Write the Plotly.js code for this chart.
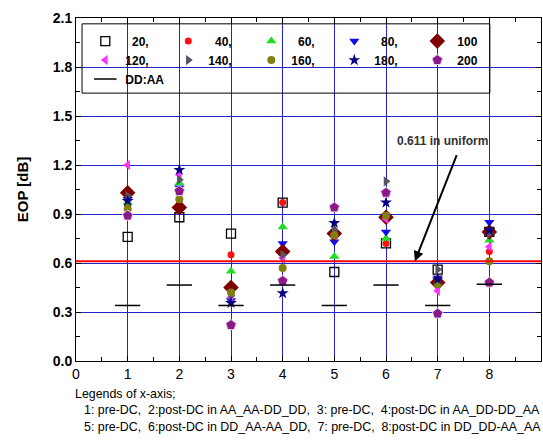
<!DOCTYPE html>
<html>
<head>
<meta charset="utf-8">
<script src="https://cdn.plot.ly/plotly-3.0.1.min.js"></script>
<style>html,body{margin:0;padding:0;background:#fff;}#chart{width:543px;height:444px;}</style>
</head>
<body>
<div id="chart"></div>
<script>
// x positions (measurement steps)
var xPos = [1, 2, 3, 4, 5, 6, 7, 8];
// series names (legend labels)
var seriesNames = ['\u00a0\u00a020,', '\u00a0\u00a040,', '\u00a0\u00a060,', '\u00a0\u00a080,', '100',
                   '120,', '140,', '160,', '180,', '200'];
// EOP values [dB] per series
var s20  = [0.76, 0.88, 0.78, 0.97, 0.545, 0.72, 0.56, 0.79];
var s40  = [0.95, 0.96, 0.65, 0.97, 0.76, 0.72, 0.47, 0.67];
var s60  = [0.97, 1.09, 0.55, 0.82, 0.64, 0.75, 0.49, 0.74];
var s80  = [0.99, 1.06, 0.37, 0.72, 0.73, 0.79, 0.51, 0.85];
var s100 = [1.03, 0.94, 0.45, 0.67, 0.78, 0.88, 0.48, 0.79];
var s120 = [1.20, 1.14, 0.39, 0.63, 0.77, 0.87, 0.43, 0.70];
var s140 = [1.01, 1.11, 0.40, 0.65, 0.80, 1.10, 0.56, 0.78];
var s160 = [0.93, 0.99, 0.42, 0.57, 0.77, 0.89, 0.47, 0.61];
var s180 = [0.98, 1.17, 0.355, 0.415, 0.845, 0.97, 0.50, 0.80];
var s200 = [0.89, 1.04, 0.22, 0.49, 0.94, 1.03, 0.29, 0.48];
var ddaa = [0.34, 0.465, 0.34, 0.465, 0.34, 0.465, 0.34, 0.47];
var uniformValue = 0.611;
var uniformLabel = '0.611 in uniform';
var xTickVals = [0, 1, 2, 3, 4, 5, 6, 7, 8, 9];
var yTickVals = [0.0, 0.3, 0.6, 0.9, 1.2, 1.5, 1.8, 2.1];
var yTickText = ['0.0', '0.3', '0.6', '0.9', '1.2', '1.5', '1.8', '2.1'];
var noteLines = ['Legends of x-axis;',
  '1: pre-DC,  2:post-DC in AA_AA-DD_DD,  3: pre-DC,  4:post-DC in AA_DD-DD_AA',
  '5: pre-DC,  6:post-DC in DD_AA-AA_DD,  7: pre-DC,  8:post-DC in DD_DD-AA_AA'];

var seriesData = [s20, s40, s60, s80, s100, s120, s140, s160, s180, s200];
var styles = [
  {symbol: 'square-open', color: '#000000', size: 9, line: {width: 1.3, color: '#000000'}},
  {symbol: 'circle', color: '#ff1010', size: 7, line: {width: 0}},
  {symbol: 'triangle-up', color: '#22dd22', size: 9, line: {width: 0}},
  {symbol: 'triangle-down', color: '#1010ee', size: 9, line: {width: 0}},
  {symbol: 'diamond', color: '#800000', size: 12, line: {width: 0}},
  {symbol: 'triangle-left', color: '#ff33ff', size: 9, line: {width: 0}},
  {symbol: 'triangle-right', color: '#555566', size: 9, line: {width: 0}},
  {symbol: 'circle', color: '#808010', size: 8, line: {width: 0}},
  {symbol: 'star', color: '#000080', size: 9, line: {width: 0}},
  {symbol: 'pentagon', color: '#8a1a8a', size: 11, line: {width: 1, color: '#e8d0e8'}}
];

var traces = seriesData.map(function (vals, i) {
  return {
    x: xPos, y: vals, type: 'scatter', mode: 'markers', name: seriesNames[i],
    marker: {symbol: styles[i].symbol, color: styles[i].color, size: styles[i].size, line: styles[i].line}
  };
});
traces.push({
  x: xPos, y: ddaa, type: 'scatter', mode: 'markers', name: 'DD:AA',
  marker: {symbol: 'line-ew', size: 18, color: '#000000', line: {width: 1.5, color: '#000000'}}
});

var gridBlue = '#2424cc';
var noteFont = {family: 'Liberation Sans, Arial', size: 12.4, color: '#000'};
var annotations = [
  {xref: 'x', yref: 'y', x: 6.56, y: uniformValue, ax: 7.38, ay: 1.27, axref: 'x', ayref: 'y',
   text: '', showarrow: true, arrowhead: 2, arrowsize: 1, arrowwidth: 2, arrowcolor: '#000'},
  {xref: 'x', yref: 'y', x: 7.1, y: 1.345, text: uniformLabel, showarrow: false,
   font: {family: 'Liberation Sans, Arial', size: 12, color: '#333', weight: 'bold'}},
  {xref: 'paper', yref: 'paper', x: -0.007, y: -0.095, xanchor: 'left', yanchor: 'middle', text: noteLines[0],
   showarrow: false, font: noteFont},
  {xref: 'paper', yref: 'paper', x: 0.012, y: -0.143, xanchor: 'left', yanchor: 'middle', text: noteLines[1],
   showarrow: false, font: noteFont},
  {xref: 'paper', yref: 'paper', x: 0.012, y: -0.191, xanchor: 'left', yanchor: 'middle', text: noteLines[2],
   showarrow: false, font: noteFont}
];

var layout = {
  width: 543, height: 444,
  margin: {l: 76, r: 2, t: 18, b: 83},
  paper_bgcolor: '#fff', plot_bgcolor: '#fff',
  font: {family: 'Liberation Sans, Arial', color: '#000'},
  showlegend: true,
  legend: {x: 0.02, y: 0.975, xanchor: 'left', yanchor: 'top', orientation: 'h',
           entrywidth: 38, bgcolor: 'rgba(0,0,0,0)', borderwidth: 0,
           tracegroupgap: 0, itemclick: false,
           font: {family: 'Liberation Sans, Arial', size: 12, color: '#000', weight: 'bold'}},
  xaxis: {range: [0, 9], tickvals: xTickVals, showgrid: true, gridcolor: gridBlue, gridwidth: 1,
          zeroline: false, showline: true, linecolor: '#000', linewidth: 1, mirror: 'ticks',
          ticks: 'inside', ticklen: 5, tickcolor: '#000',
          minor: {dtick: 0.5, ticks: 'inside', ticklen: 4, tickcolor: '#000', showgrid: false},
          tickfont: {family: 'Liberation Sans, Arial', size: 14, color: '#000'}, fixedrange: true},
  yaxis: {range: [0, 2.1], tickvals: yTickVals, ticktext: yTickText, showgrid: true, gridcolor: gridBlue, gridwidth: 1,
          zeroline: false, showline: true, linecolor: '#000', linewidth: 1, mirror: 'ticks',
          ticks: 'inside', ticklen: 5, tickcolor: '#000',
          minor: {dtick: 0.15, ticks: 'inside', ticklen: 4, tickcolor: '#000', showgrid: false},
          tickfont: {family: 'Liberation Sans, Arial', size: 14, color: '#000', weight: 'bold'},
          title: {text: 'EOP [dB]', standoff: 20, font: {family: 'Liberation Sans, Arial', size: 15, color: '#000', weight: 'bold'}},
          fixedrange: true},
  shapes: [
    {type: 'line', xref: 'paper', yref: 'y', x0: 0, x1: 1, y0: uniformValue, y1: uniformValue,
     line: {color: '#ff0000', width: 2}},
    {type: 'rect', xref: 'paper', yref: 'paper', x0: 0.013, x1: 0.89, y0: 0.781, y1: 0.983,
     line: {color: '#000', width: 1}, fillcolor: 'rgba(0,0,0,0)', layer: 'above'}
  ],
  annotations: annotations
};

Plotly.newPlot('chart', traces, layout, {displayModeBar: false, staticPlot: true});
</script>
</body>
</html>
